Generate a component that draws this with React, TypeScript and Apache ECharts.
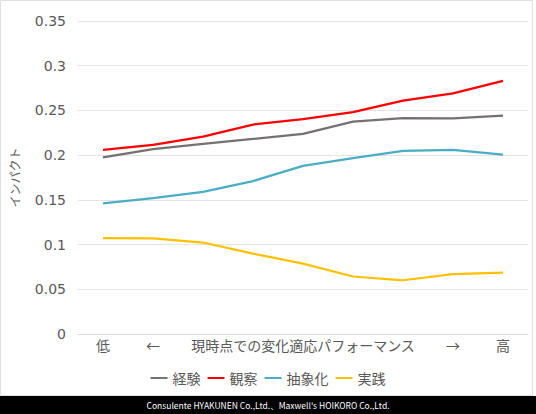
import React, { useEffect, useRef } from "react";
import * as echarts from "echarts";

const categories = ["低", "←", "", "", "現時点での変化適応パフォーマンス", "", "", "→", "高"];
const keiken = [0.1975, 0.2067, 0.2126, 0.2182, 0.2238, 0.2375, 0.2415, 0.241, 0.2442];
const kansatsu = [0.2059, 0.2115, 0.2208, 0.2342, 0.2402, 0.248, 0.261, 0.269, 0.283];
const chushoka = [0.146, 0.152, 0.159, 0.171, 0.188, 0.1966, 0.2048, 0.206, 0.2007];
const jissen = [0.1071, 0.1068, 0.1023, 0.0899, 0.0786, 0.0643, 0.0601, 0.0669, 0.0685];
const seriesNames = ["経験", "観察", "抽象化", "実践"];
const colors = ["#767171", "#ff0000", "#4bacc6", "#ffc000"];
const footer = "Consulente HYAKUNEN Co.,Ltd.、Maxwell's HOIKORO Co.,Ltd.";

const FONT = "'Noto Sans CJK JP', 'Noto Sans', sans-serif";

export default function App() {
  const ref = useRef<HTMLDivElement>(null);
  useEffect(() => {
    document.body.style.margin = "0";
    const chart = echarts.init(ref.current!, null, { renderer: "svg" });
    const data = [keiken, kansatsu, chushoka, jissen];
    chart.setOption({
      animation: false,
      backgroundColor: "#ffffff",
      textStyle: { fontFamily: FONT },
      grid: { left: 77, right: 8, top: 21, bottom: 80 },
      legend: {
        left: "center",
        top: 366,
        icon: "rect",
        itemWidth: 17,
        itemHeight: 2,
        itemGap: 7,
        textStyle: { color: "#595959", fontSize: 14, fontFamily: FONT },
        data: seriesNames,
      },
      xAxis: {
        type: "category",
        data: categories,
        boundaryGap: true,
        axisLine: { lineStyle: { color: "#d9d9d9" } },
        axisTick: { show: false },
        axisLabel: { interval: 0, color: "#595959", fontSize: 14, margin: 4, fontFamily: FONT },
      },
      yAxis: {
        type: "value",
        min: 0,
        max: 0.35,
        interval: 0.05,
        name: "インパクト",
        nameLocation: "middle",
        nameGap: 58,
        nameRotate: 90,
        nameTextStyle: { color: "#595959", fontSize: 12, fontFamily: FONT },
        axisLine: { show: false },
        axisTick: { show: false },
        splitLine: { lineStyle: { color: "#e3e3e3", width: 1 } },
        axisLabel: {
          color: "#595959",
          fontSize: 14,
          margin: 12,
          fontFamily: "'DejaVu Sans', sans-serif",
          formatter: (v: number) => String(parseFloat(v.toFixed(2))),
        },
      },
      series: data.map((d, i) => ({
        name: seriesNames[i],
        type: "line",
        data: d,
        symbol: "none",
        lineStyle: { color: colors[i], width: 2.25 },
        itemStyle: { color: colors[i] },
      })),
      graphic: [
        {
          type: "rect",
          shape: { x: 0.5, y: 0.5, width: 532, height: 395 },
          style: { fill: "none", stroke: "#e0e0e0", lineWidth: 1 },
          silent: true,
        },
        {
          type: "rect",
          shape: { x: 0, y: 396, width: 536, height: 18 },
          style: { fill: "#000000" },
          silent: true,
        },
        {
          type: "text",
          x: 268,
          y: 405,
          style: {
            text: footer,
            fill: "#ffffff",
            fontSize: 8.5,
            fontFamily: FONT,
            align: "center",
            verticalAlign: "middle",
          },
          silent: true,
        },
      ],
    });
    return () => chart.dispose();
  }, []);
  return <div ref={ref} style={{ width: 536, height: 414 }} />;
}
